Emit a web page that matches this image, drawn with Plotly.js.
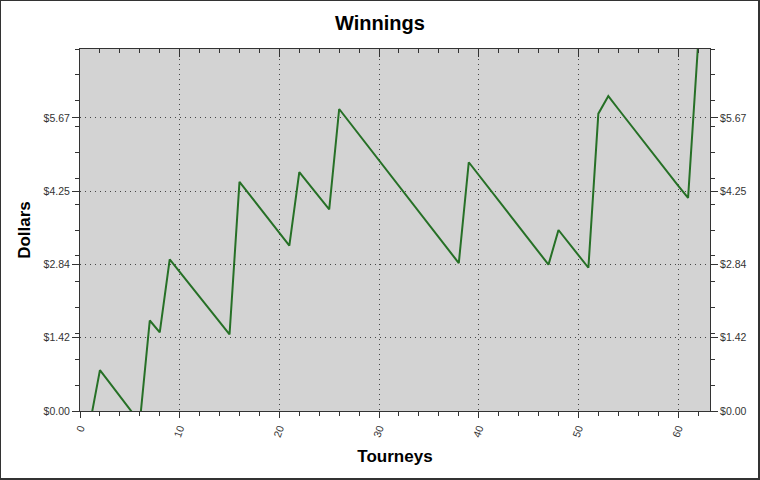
<!DOCTYPE html>
<html>
<head>
<meta charset="utf-8">
<script src="https://cdn.plot.ly/plotly-3.0.1.min.js"></script>
<style>
  html, body { margin: 0; padding: 0; background: #fff; }
  #wrap { position: relative; width: 760px; height: 480px; }
  #chart { width: 760px; height: 480px; }
  #frame { position: absolute; left: 0; top: 0; width: 760px; height: 480px; box-sizing: border-box;
           border-style: solid; border-color: #333; border-width: 1px 2px 2px 1px; pointer-events: none; }
</style>
</head>
<body>
<div id="wrap"><div id="chart"></div><div id="frame"></div></div>
<script>
// Tourney number
const tourneys = [1,2,3,4,5,6,7,8,9,10,11,12,13,14,15,16,17,18,19,20,21,22,23,24,25,26,27,28,29,30,31,
  32,33,34,35,36,37,38,39,40,41,42,43,44,45,46,47,48,49,50,51,52,53,54,55,56,57,58,59,60,61,62];
// Cumulative winnings (dollars)
const winnings = [-0.24,0.79,0.54,0.29,0.03,-0.22,1.75,1.52,2.93,2.69,2.45,2.20,1.96,1.72,1.48,
  4.43,4.18,3.94,3.69,3.45,3.20,4.62,4.38,4.14,3.90,5.84,5.59,5.34,5.09,4.84,4.59,4.35,4.10,3.85,
  3.60,3.35,3.11,2.86,4.81,4.56,4.32,4.07,3.82,3.57,3.32,3.08,2.83,3.50,3.26,3.01,2.77,5.75,6.09,
  5.84,5.59,5.35,5.10,4.85,4.61,4.36,4.12,7.08];
// Y tick positions and labels
const yTickVals = [0, 1.4167, 2.8333, 4.25, 5.6667];
const yTickText = ['$0.00', '$1.42', '$2.84', '$4.25', '$5.67'];

const FONT = 'Liberation Sans, Arial, sans-serif';
const AX = '#333';
const GRID_DASH = '1px,4px';

const trace = {
  x: tourneys, y: winnings, type: 'scatter', mode: 'lines',
  line: { color: 'rgb(38,112,38)', width: 2 }, hoverinfo: 'skip', showlegend: false
};
const ghost = {
  x: tourneys, y: winnings, xaxis: 'x2', yaxis: 'y2', type: 'scatter', mode: 'lines',
  line: { color: 'rgba(0,0,0,0)', width: 0 }, hoverinfo: 'skip', showlegend: false
};

const yCommon = {
  range: [0, 7.0], tickmode: 'array', tickvals: yTickVals, ticktext: yTickText,
  ticks: 'outside', ticklen: 7, tickwidth: 1, tickcolor: AX,
  tickfont: { family: FONT, size: 10.5, color: '#333' },
  showline: true, linecolor: AX, linewidth: 1, zeroline: false, fixedrange: true,
  minor: { tickmode: 'linear', tick0: 0, dtick: 0.5, ticks: 'outside', ticklen: 4, tickcolor: AX, showgrid: false }
};

const layout = {
  width: 760, height: 480,
  paper_bgcolor: '#ffffff', plot_bgcolor: '#d3d3d3',
  margin: { l: 80, r: 50, t: 49, b: 69, pad: 0 },
  title: { text: '<b>Winnings</b>', font: { family: FONT, size: 20, color: '#000' },
           x: 0.5, xanchor: 'center', y: 0.952, yanchor: 'middle', yref: 'container' },
  showlegend: false,
  xaxis: {
    range: [0, 63.2], tickmode: 'linear', tick0: 0, dtick: 10,
    ticks: 'outside', ticklen: 6, tickwidth: 1, tickcolor: AX, tickangle: -70,
    tickfont: { family: FONT, size: 10.5, color: '#333' },
    showline: true, linecolor: AX, linewidth: 1, mirror: true, zeroline: false,
    showgrid: true, gridcolor: '#444', griddash: GRID_DASH, gridwidth: 1, fixedrange: true,
    minor: { dtick: 2, ticks: 'outside', ticklen: 4, tickcolor: AX, showgrid: false },
    title: { text: '<b>Tourneys</b>', font: { family: FONT, size: 17, color: '#000' }, standoff: 12 }
  },
  xaxis2: {
    overlaying: 'x', side: 'top', anchor: 'y', matches: 'x',
    range: [0, 63.2], tickmode: 'linear', tick0: 0, dtick: 10,
    ticks: 'inside', ticklen: 8, tickwidth: 1, tickcolor: AX, showticklabels: false,
    showline: false, showgrid: false, zeroline: false, fixedrange: true,
    minor: { dtick: 2, ticks: 'inside', ticklen: 4, tickcolor: AX, showgrid: false }
  },
  yaxis: Object.assign({}, yCommon, {
    mirror: true, showgrid: true, gridcolor: '#444', griddash: GRID_DASH, gridwidth: 1,
    title: { text: '<b>Dollars</b>', font: { family: FONT, size: 17, color: '#000' }, standoff: 8 }
  }),
  yaxis2: Object.assign({}, yCommon, {
    overlaying: 'y', side: 'right', anchor: 'x', matches: 'y', showgrid: false, showline: false
  })
};

Plotly.newPlot('chart', [ghost, trace], layout, { staticPlot: true, displayModeBar: false });
</script>
</body>
</html>
